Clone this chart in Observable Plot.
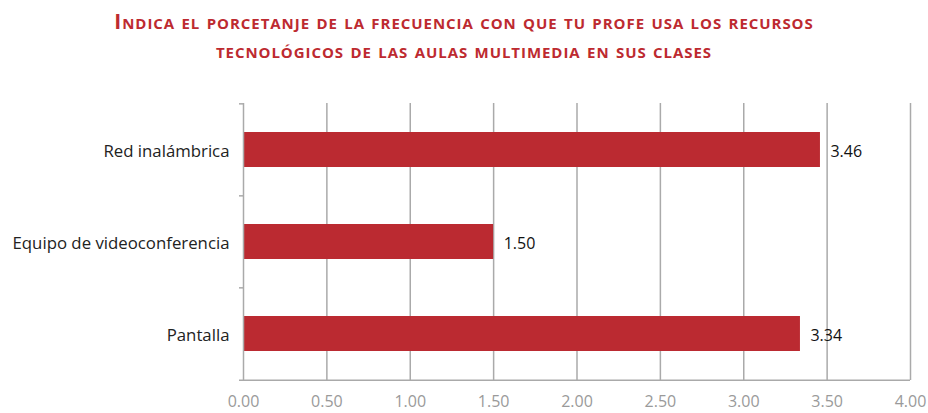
<!DOCTYPE html>
<html>
<head>
<meta charset="utf-8">
<script src="https://cdn.jsdelivr.net/npm/d3@7"></script>
<script src="https://cdn.jsdelivr.net/npm/@observablehq/plot@0.6"></script>
<style>
  body { margin: 0; background: #fff; }
  #title {
    height: 75px; box-sizing: border-box; padding-top: 7px;
    text-align: center; color: #bd2a30; font-family: 'Open Sans', sans-serif;
    font-weight: bold; font-variant: small-caps; font-size: 21px; line-height: 29px;
    letter-spacing: 0.95px;
  }
</style>
</head>
<body>
<div id="title">Indica el porcetanje de la frecuencia con que tu profe usa los recursos<br>tecnológicos de las aulas multimedia en sus clases</div>
<div id="chart"></div>
<script>
const categories = ["Red inalámbrica", "Equipo de videoconferencia", "Pantalla"];
const values = [3.46, 1.50, 3.34];
const xTicks = [0, 0.5, 1, 1.5, 2, 2.5, 3, 3.5, 4];

const data = categories.map((c, i) => ({category: c, value: values[i]}));

const width = 928, height = 338, mt = 28, mb = 33, ml = 243, mr = 18;
const step = (height - mt - mb) / categories.length;
const grey = "#aaaaaa";

const chart = Plot.plot({
  width, height,
  marginTop: mt, marginBottom: mb, marginLeft: ml, marginRight: mr,
  style: {fontFamily: "'Open Sans', sans-serif", background: "#fff"},
  x: {domain: [0, 4]},
  y: {domain: categories, paddingInner: 0.62, paddingOuter: 0.31, label: null},
  marks: [
    Plot.ruleX(xTicks.slice(1), {stroke: grey, strokeWidth: 1.5}),
    Plot.barX(data, {x: "value", y: "category", fill: "#bb2a31"}),
    Plot.ruleX([0], {stroke: grey, strokeWidth: 1.5}),
    Plot.ruleY([categories[categories.length - 1]], {dy: step / 2, x1: 0, x2: 4, insetLeft: -4, stroke: grey, strokeWidth: 1.5}),
    Plot.axisY({ticks: categories.slice(1), text: null, tickSize: 4, dy: -step / 2, stroke: grey, strokeWidth: 1.5}),
    Plot.axisY({ticks: [categories[0]], text: null, tickSize: 4, dy: -step / 2, stroke: grey, strokeWidth: 1.5}),
    Plot.axisY({tickSize: 0, tickPadding: 14, fontSize: 16.8, dy: 2, fill: "#222", fontWeight: "normal", label: null}),
    Plot.axisX({ticks: xTicks, tickSize: 0, tickPadding: 15, fontSize: 16, fill: "#9a9a9a", fontWeight: "normal", tickFormat: d => d.toFixed(2), label: null}),
    Plot.text(data, {x: "value", y: "category", text: d => d.value.toFixed(2), dx: 10, dy: 2, textAnchor: "start", fontSize: 16, fill: "#111"})
  ]
});
document.getElementById("chart").appendChild(chart);
</script>
</body>
</html>
